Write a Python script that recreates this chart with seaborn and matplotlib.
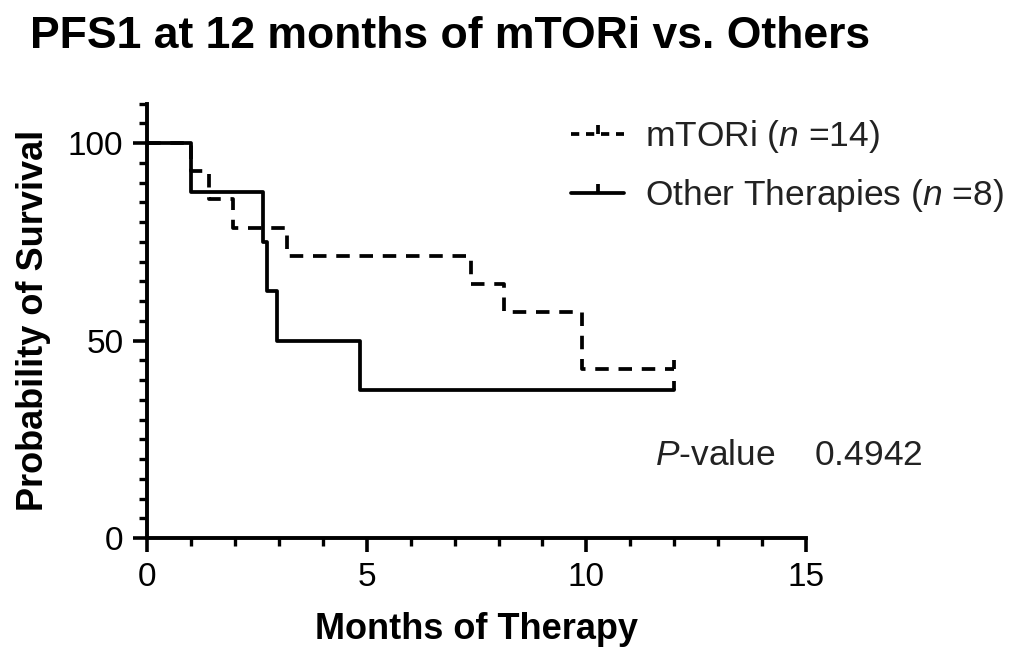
import numpy as np
import pandas as pd
import matplotlib
matplotlib.use("Agg")
import matplotlib.pyplot as plt
import seaborn as sns
from matplotlib.lines import Line2D

# ==== data ====
mtori_times = [0, 1.0, 1.41, 1.95, 3.18, 7.37, 8.13, 9.9, 12]
mtori_surv = [100, 92.86, 85.71, 78.57, 71.43, 64.29, 57.14, 42.86, 42.86]
other_times = [0, 1.0, 2.64, 2.72, 2.96, 4.85, 12]
other_surv = [100, 87.5, 75, 62.5, 50, 37.5, 37.5]
# censored observations (time, survival)
mtori_cens_t = [12]
mtori_cens_s = [42.86]
other_cens_t = [12]
other_cens_s = [37.5]

groups = ["mTORi", "Other Therapies"]
labels = [r"mTORi ($\mathit{n}$ =14)", r"Other Therapies ($\mathit{n}$ =8)"]
p_value = 0.4942

df = pd.concat([
    pd.DataFrame({"time": mtori_times, "surv": mtori_surv, "group": groups[0]}),
    pd.DataFrame({"time": other_times, "surv": other_surv, "group": groups[1]}),
], ignore_index=True)

sns.set_style("ticks")
plt.rcParams["font.family"] = ["Liberation Sans", "DejaVu Sans"]
plt.rcParams["mathtext.fontset"] = "custom"
plt.rcParams["mathtext.rm"] = "Liberation Sans"
plt.rcParams["mathtext.it"] = "Liberation Sans:italic"
for k in ["text.color", "axes.labelcolor", "xtick.color", "ytick.color", "axes.edgecolor"]:
    plt.rcParams[k] = "black"

fig = plt.figure(figsize=(10.14, 6.49), dpi=100)
ax = fig.add_axes([0.145, 0.171, 0.65, 0.6695])

lw = 2.7
dash_map = {groups[0]: (3.6, 2.6), groups[1]: ""}
sns.lineplot(data=df, x="time", y="surv", style="group", dashes=dash_map,
             color="black", linewidth=lw, drawstyle="steps-post",
             estimator=None, sort=False, legend=False, ax=ax)

# censor ticks pointing up
cens_marker = [(0, 0), (0, 1)]
ax.plot(mtori_cens_t, mtori_cens_s, ls="none", marker=cens_marker,
        ms=13, mew=lw, color="black")
ax.plot(other_cens_t, other_cens_s, ls="none", marker=cens_marker,
        ms=13, mew=lw, color="black")

ax.set_xlim(0, 15)
ax.set_ylim(0, 110)
ax.set_xticks([0, 5, 10, 15])
ax.set_xticks(np.arange(0, 16, 1), minor=True)
ax.set_yticks([0, 50, 100])
ax.set_yticks(np.arange(0, 111, 5), minor=True)
sns.despine(ax=ax)
for s in ["left", "bottom"]:
    ax.spines[s].set_linewidth(2.8)
ax.tick_params(which="major", length=10, width=2.6, labelsize=24, pad=7)
ax.tick_params(which="minor", length=6, width=2.4)

ax.set_xlabel("Months of Therapy", fontsize=26, fontweight="bold", labelpad=14)
ax.set_ylabel("Probability of Survival", fontsize=26, fontweight="bold", labelpad=12)

fig.text(30 / 1014, 1 - 36 / 649, "PFS1 at 12 months of mTORi vs. Others",
         fontsize=32, fontweight="bold", va="center", ha="left")

ax.text(0.77, 0.19, r"$\mathit{P}$-value    " + f"{p_value}", transform=ax.transAxes,
        fontsize=25.5, va="center", ha="left", color="#222222")

handles = [
    Line2D([], [], color="black", lw=lw, dashes=(2.2, 1.8), marker=cens_marker, ms=13, mew=lw),
    Line2D([], [], color="black", lw=lw, marker=cens_marker, ms=13, mew=lw),
]
ax.legend(handles, labels, loc="upper left", bbox_to_anchor=(0.595, 1.04),
          frameon=False, fontsize=25.5, handlelength=1.5, handletextpad=0.6,
          labelspacing=0.62, numpoints=1, labelcolor="#222222")

fig.savefig("out.png", dpi=100)
